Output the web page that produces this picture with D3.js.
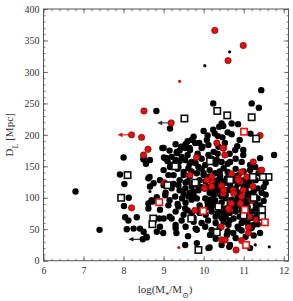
<!DOCTYPE html>
<html>
<head>
<meta charset="utf-8">
<script src="https://cdn.jsdelivr.net/npm/d3@7"></script>
<style>
  html, body { margin: 0; padding: 0; background: #fff; }
  svg { display: block; }
  text { font-family: "Liberation Serif", "DejaVu Serif", serif; }
</style>
</head>
<body>
<div id="chart"></div>
<script>
// log stellar mass vs luminosity distance
const xTicks = [6, 7, 8, 9, 10, 11, 12];
const yTicks = [0, 50, 100, 150, 200, 250, 300, 350, 400];

// filled black circles [logM, D_L]
const blackPts = [
  [6.80,110],[7.40,49],[8.82,238],[8.97,179],[8.00,164],[8.50,161],[8.66,160],[8.56,154],[9.01,164],
  [7.91,137],[8.65,133],[8.02,122],[8.13,100],[8.01,87],[8.04,69],[8.12,64],[8.33,69],[8.08,50],
  [8.25,51],[8.41,51],[8.50,46],[8.62,91],[8.48,34],[8.58,37],[8.62,83],[8.73,94],[8.89,67],
  [8.62,131],[8.66,118],[8.75,123],[8.91,128],[9.00,144],[9.16,149],[9.29,155],[9.33,171],
  [9.08,163],[9.00,179],[8.70,96],[8.83,101],[8.91,81],[9.00,67],[8.83,46],[8.91,54],[8.50,163],
  [10.24,250],[11.20,250],[11.38,243],[11.44,271],
  [10.45,218],[10.70,218],[10.86,217],[10.39,213],[10.49,214],[9.16,210],[10.24,208],
  [10.00,206],[10.60,204],[10.28,202],[10.70,201],[11.17,202],[10.10,199],[10.36,198],
  [9.75,197],[10.47,196],[10.08,192],[10.90,192],[9.89,187],[10.53,187],[9.79,187],
  [10.12,184],[10.84,182],[10.37,181],[9.97,181],[9.49,181],[9.44,181],[9.65,179],[9.54,179],
  [9.95,179],[10.99,176],[9.66,176],[10.79,176],[9.33,173],[10.25,173],[10.12,168],[10.99,168],
  [11.76,168],[9.60,168],[9.87,165],[9.20,165],[9.45,165],[9.04,163],[11.41,163],[9.54,160],
  [10.33,160],[9.30,160],[9.70,157],[10.45,157],[10.66,157],[10.95,157],[9.80,155],
  [9.20,152],[10.04,152],[11.16,152],[9.37,149],[9.87,149],[11.29,149],[10.50,147],[9.62,147],
  [11.16,144],[10.15,144],[9.50,141],[10.60,141],[9.83,139],[10.29,139],[11.37,139],[10.00,139],
  [9.12,136],[9.50,136],[10.00,136],[10.41,136],[10.87,136],[9.25,136],[10.41,133],[10.58,131],
  [10.16,128],[10.35,128],[9.40,128],[9.90,128],[10.75,128],[11.00,128],[11.30,128],
  [9.55,124],[9.75,124],[10.55,124],[10.95,124],[11.55,124],[9.37,120],[10.66,120],[10.45,120],
  [11.10,120],[9.00,120],[9.85,120],[9.70,118],[10.30,118],[9.20,115],[9.54,115],[10.80,115],
  [11.35,115],[9.87,112],[10.37,112],[10.60,112],[11.05,112],[9.40,112],[9.05,108],[9.65,108],
  [10.15,108],[10.90,108],[11.45,108],[9.04,104],[10.91,104],[10.25,104],[9.75,104],[9.29,102],
  [9.62,102],[10.45,102],[9.46,99],[9.83,99],[10.04,99],[10.55,99],[11.00,99],[11.35,99],
  [10.29,96],[9.15,96],[11.12,94],[10.80,94],[9.55,92],[10.10,92],[10.45,92],[9.12,88],
  [10.95,88],[11.40,88],[9.90,88],[9.37,86],[10.41,86],[9.54,83],[9.91,83],[10.55,83],[11.30,83],
  [10.20,78],[9.30,78],[10.80,78],[11.20,78],[9.70,75],[10.50,75],[9.50,73],[11.33,73],[10.05,73],
  [9.15,70],[10.30,70],[10.90,70],[9.20,67],[10.75,67],[10.11,64],[9.45,64],[11.00,64],
  [9.75,62],[10.50,62],[10.62,57],[9.30,57],[11.25,57],[10.04,54],[9.55,54],[10.85,54],
  [10.87,51],[9.80,51],[9.83,49],[10.20,49],[9.32,44],[8.99,44],[10.74,44],[11.41,44],
  [10.16,41],[10.58,41],[9.61,39],[8.57,38],[9.83,28],[9.54,25],[10.45,25],[10.66,25],
  [10.64,22],[10.15,21],[10.12,20],[11.16,20],
  [10.35,170],[10.65,170],[9.85,170],[10.20,162],[10.80,162],[9.95,162],[10.60,154],[10.30,154],
  [9.65,154],[10.80,146],[9.95,146],[9.35,146],[10.40,142],[11.00,142],[9.70,142],[10.80,134],
  [10.15,134],[9.65,134],[11.20,134],[10.05,126],[10.50,126],[11.15,126],[9.60,126],[10.30,122],
  [10.85,122],[9.25,122],[10.10,117],[11.00,117],[11.50,117],[9.95,117],[10.25,110],[10.75,110],
  [11.25,110],[9.75,110],[10.40,106],[11.15,106],[9.50,106],[10.70,97],[11.20,97],[9.70,97],
  [10.15,97],[10.25,90],[10.65,90],[11.05,90],[9.35,90],[10.10,85],[10.80,85],[11.10,85],
  [10.40,80],[9.60,80],[11.40,80],[10.65,76],[11.05,76],[9.90,76],[10.45,68],[11.20,68],
  [9.75,68],[10.30,60],[10.95,60],[9.95,60],[10.40,52],[11.20,52],[9.30,52],
  [9.60,190],[9.70,192],[9.55,185],[9.30,185],[9.15,175],[9.40,175],[9.10,158],[9.40,158],
  [10.55,70],[10.65,64],[10.95,80],[11.10,60],[11.30,90],[10.75,86],[10.85,100],[11.10,104],
  [10.35,75],[10.60,47],[10.95,48],[11.25,40],[10.80,36],[11.05,38],[10.30,35],[11.35,58],
  [10.20,86],[10.55,105],[11.50,95],[11.55,105]
];

// filled red circles
const redPts = [
  [8.51,238],[8.20,200],[8.45,196],[8.61,177],[8.50,168],[9.19,219],[10.28,366],[10.99,342],
  [10.61,318],[8.20,84],[11.41,199],[10.50,179],[9.82,164],[10.53,168],[10.33,187],[10.48,179],
  [11.24,157],[11.42,143],[10.70,138],[10.86,131],[10.20,127],[10.45,119],[10.03,115],[9.02,124],
  [10.49,107],[10.99,112],[10.74,112],[10.69,91],[11.20,96],[10.92,91],[9.78,80],[10.64,81],
  [11.32,65],[11.12,53],[11.14,70],[10.45,33],[10.95,32],[10.81,17],[9.66,136],[10.20,133],
  [11.08,133],[10.95,141],[11.45,144],[10.91,126],[10.62,83],[11.12,44],[10.08,128],
  [10.87,128],[10.50,112],[11.23,118],[10.95,102],[10.44,54],[10.54,33],[10.75,107],
  [10.02,115],[10.20,118]
];

// open squares
const blackSquares = [
  [8.10,136],[7.94,100],[9.52,226],[10.34,238],[10.59,231],[11.20,228],[11.31,194],[10.16,158],
  [9.29,150],[9.10,120],[11.62,133],[11.48,133],[11.23,133],[10.37,86],[9.69,67],[10.33,45],
  [9.87,17],[8.74,67],[8.72,58],[11.25,100],[11.46,81],[11.46,70],[11.00,72],[9.79,124],[10.66,128]
];
const redSquares = [
  [8.89,93],[9.99,79],[11.01,205],[11.03,81],[11.53,61],[11.06,25]
];

// small dots
const blackDots = [[10.65,332],[10.03,310],[11.29,25],[11.64,22],[8.66,110]];
const redDots = [[9.40,285],[9.38,21]];

// upper limits: [x, y, arrow tip x, colour]
const limits = [
  [8.20,200,7.85,"#dd1111"],
  [9.19,219,8.84,"#333"],
  [8.48,34,8.12,"#111"],
  [8.14,51,8.00,"#111"]
];

const W = 293, H = 301;
const mL = 43.5, mR = 288.5, mT = 9, mB = 260.7;

const x = d3.scaleLinear().domain([6, 12.12]).range([mL, mR]);
const y = d3.scaleLinear().domain([0, 400]).range([mB, mT]);

const svg = d3.select("#chart").append("svg")
  .attr("width", W).attr("height", H);

const axisCol = "#555";
const minorX = d3.range(6, 12.13, 0.2).map(v => +v.toFixed(1));
const minorY = d3.range(0, 401, 10);

function styleAxis(g) {
  g.select(".domain").remove();
  g.selectAll("line").attr("stroke", axisCol).attr("stroke-width", 0.8);
  g.selectAll("text").attr("fill", "#333").style("font-size", "10px")
    .style("font-family", "'Liberation Serif', serif");
}

// bottom
svg.append("g").attr("transform", `translate(0,${mB})`)
  .call(d3.axisBottom(x).tickValues(minorX).tickSize(-2).tickFormat(""))
  .call(styleAxis);
svg.append("g").attr("transform", `translate(0,${mB})`)
  .call(d3.axisBottom(x).tickValues(xTicks).tickSize(-4.5).tickPadding(6).tickFormat(d3.format("d")))
  .call(styleAxis);
// top
svg.append("g").attr("transform", `translate(0,${mT})`)
  .call(d3.axisTop(x).tickValues(minorX).tickSize(-2).tickFormat(""))
  .call(styleAxis);
svg.append("g").attr("transform", `translate(0,${mT})`)
  .call(d3.axisTop(x).tickValues(xTicks).tickSize(-4.5).tickFormat(""))
  .call(styleAxis);
// left
svg.append("g").attr("transform", `translate(${mL},0)`)
  .call(d3.axisLeft(y).tickValues(minorY).tickSize(-2).tickFormat(""))
  .call(styleAxis);
svg.append("g").attr("transform", `translate(${mL},0)`)
  .call(d3.axisLeft(y).tickValues(yTicks).tickSize(-4.5).tickPadding(4).tickFormat(d3.format("d")))
  .call(styleAxis);
// right
svg.append("g").attr("transform", `translate(${mR},0)`)
  .call(d3.axisRight(y).tickValues(minorY).tickSize(-2).tickFormat(""))
  .call(styleAxis);
svg.append("g").attr("transform", `translate(${mR},0)`)
  .call(d3.axisRight(y).tickValues(yTicks).tickSize(-4.5).tickFormat(""))
  .call(styleAxis);

// frame
svg.append("rect")
  .attr("x", mL).attr("y", mT)
  .attr("width", mR - mL).attr("height", mB - mT)
  .attr("fill", "none").attr("stroke", axisCol).attr("stroke-width", 1);

const plot = svg.append("g");

// arrows for upper limits
limits.forEach(d => {
  const x0 = x(d[0]), yy = y(d[1]), x1 = x(d[2]);
  plot.append("line")
    .attr("x1", x0).attr("x2", x1 + 4).attr("y1", yy).attr("y2", yy)
    .attr("stroke", d[3]).attr("stroke-width", 1.1);
  plot.append("path")
    .attr("d", `M${x1},${yy} L${x1 + 5},${yy - 2.3} L${x1 + 5},${yy + 2.3} Z`)
    .attr("fill", d[3]);
});

const rr = 3.2;
plot.append("g").selectAll("circle")
  .data(blackPts).join("circle")
  .attr("cx", d => x(d[0])).attr("cy", d => y(d[1]))
  .attr("r", rr).attr("fill", "#000");

plot.append("g").selectAll("circle")
  .data(redPts).join("circle")
  .attr("cx", d => x(d[0])).attr("cy", d => y(d[1]))
  .attr("r", rr).attr("fill", "#dd1111")
  .attr("stroke", "#6a0000").attr("stroke-width", 0.6);

const sq = 6.4;
plot.append("g").selectAll("rect")
  .data(blackSquares).join("rect")
  .attr("x", d => x(d[0]) - sq / 2).attr("y", d => y(d[1]) - sq / 2)
  .attr("width", sq).attr("height", sq)
  .attr("fill", "#fff").attr("stroke", "#111").attr("stroke-width", 1.6);

plot.append("g").selectAll("rect")
  .data(redSquares).join("rect")
  .attr("x", d => x(d[0]) - sq / 2).attr("y", d => y(d[1]) - sq / 2)
  .attr("width", sq).attr("height", sq)
  .attr("fill", "#fff").attr("stroke", "#ee1111").attr("stroke-width", 1.6);

plot.append("g").selectAll("circle")
  .data(blackDots).join("circle")
  .attr("cx", d => x(d[0])).attr("cy", d => y(d[1]))
  .attr("r", 1.6).attr("fill", "#000");

plot.append("g").selectAll("circle")
  .data(redDots).join("circle")
  .attr("cx", d => x(d[0])).attr("cy", d => y(d[1]))
  .attr("r", 1.6).attr("fill", "#cc1111");

// axis labels
const xl = svg.append("text")
  .attr("x", (mL + mR) / 2 - 1).attr("y", 293)
  .attr("text-anchor", "middle").attr("fill", "#333")
  .style("font-size", "11px");
xl.append("tspan").text("log(M");
xl.append("tspan").attr("baseline-shift", "sub").style("font-size", "8px").text("*");
xl.append("tspan").text("/M");
xl.append("tspan").attr("baseline-shift", "sub").style("font-size", "8px").text("⊙");
xl.append("tspan").text(")");

const yl = svg.append("text")
  .attr("transform", `translate(13,${(mT + mB) / 2}) rotate(-90)`)
  .attr("text-anchor", "middle").attr("fill", "#333")
  .style("font-size", "11px");
yl.append("tspan").text("D");
yl.append("tspan").attr("baseline-shift", "sub").style("font-size", "8px").text("L");
yl.append("tspan").text(" [Mpc]");
</script>
</body>
</html>
